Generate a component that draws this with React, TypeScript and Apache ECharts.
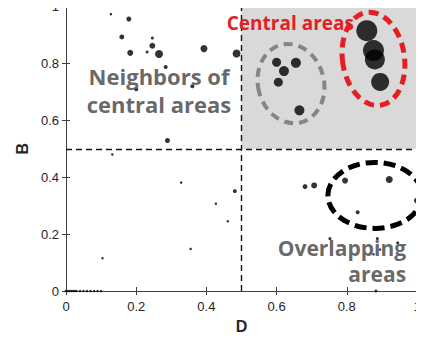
import React, { useEffect, useRef } from "react";
import * as echarts from "echarts";

const xTicks = ["0", "0.2", "0.4", "0.6", "0.8", "1"];
const yTicks = ["0", "0.2", "0.4", "0.6", "0.8", "1"];

const dX = [
  0.116, 0.128, 0.179, 0.159, 0.246, 0.246, 0.231, 0.183, 0.265, 0.284, 0.36, 0.2,
  0.393, 0.486, 0.6, 0.655, 0.621, 0.605, 0.665, 0.857, 0.876, 0.88, 0.895,
  0.681, 0.707, 0.795, 0.921, 1.0, 0.831, 0.79, 0.752, 0.887, 0.945, 0.895, 0.876, 0.883,
  0.289, 0.132, 0.328, 0.481, 0.427, 0.461, 0.355, 0.104,
  0.0, 0.005, 0.01, 0.015, 0.02, 0.025, 0.03, 0.04, 0.05, 0.06, 0.07, 0.08, 0.09, 0.1,
];
const dY = [
  1.0, 0.973, 0.956, 0.893, 0.889, 0.862, 0.84, 0.837, 0.833, 0.787, 0.72, 0.709,
  0.852, 0.835, 0.804, 0.802, 0.773, 0.734, 0.635, 0.915, 0.845, 0.814, 0.735,
  0.367, 0.371, 0.388, 0.392, 0.318, 0.277, 0.245, 0.184, 0.184, 0.169, 0.146, 0.129, 0.0,
  0.529, 0.48, 0.381, 0.351, 0.307, 0.245, 0.148, 0.115,
  0, 0, 0, 0, 0, 0, 0, 0, 0, 0, 0, 0, 0, 0,
];
const dW = [
  2.5, 2.5, 5, 5, 3, 6, 3, 6, 8, 4, 4, 4,
  7, 8, 9, 10, 10, 9, 10, 21, 21, 20, 18,
  5, 6, 6, 7, 6, 4, 3, 3, 3, 3, 2.5, 2.5, 3,
  5, 2.5, 2.5, 4, 2.5, 2.5, 2.5, 2.5,
  2.5, 2.5, 2.5, 2.5, 2.5, 2.5, 2.5, 2.5, 2.5, 2.5, 2.5, 2.5, 2.5, 2.5,
];

const threshold = 0.5;

export default function App() {
  const ref = useRef<HTMLDivElement>(null);
  useEffect(() => {
    if (!ref.current) return;
    const chart = echarts.init(ref.current, null, { renderer: "svg" });
    const axisFont = { fontFamily: "Liberation Sans", fontSize: 13, color: "#262626" };
    const lineCol = "#404040";
    const data = dX.map((x, i) => [x, dY[i], dW[i]]);
    chart.setOption({
      animation: false,
      grid: { left: 66, right: 7, top: 6, bottom: 50 },
      xAxis: [
        {
          type: "value", min: 0, max: 1, interval: 0.2,
          name: "D", nameLocation: "middle", nameGap: 27,
          nameTextStyle: { fontFamily: "Liberation Sans", fontWeight: "bold", fontSize: 16, color: "#262626" },
          axisLine: { lineStyle: { color: lineCol } },
          axisTick: { inside: true, length: 4, lineStyle: { color: lineCol } },
          axisLabel: { ...axisFont, margin: 9, showMaxLabel: true, showMinLabel: true, formatter: (v: number) => xTicks[Math.round(v / 0.2)] },
          splitLine: { show: false },
        },
        {
          type: "value", min: 0, max: 1, interval: 0.2, position: "top",
          axisLine: { lineStyle: { color: lineCol } },
          axisTick: { inside: true, length: 4, lineStyle: { color: lineCol } },
          axisLabel: { show: false }, splitLine: { show: false },
        },
      ],
      yAxis: [
        {
          type: "value", min: 0, max: 1, interval: 0.2,
          name: "B", nameLocation: "middle", nameGap: 35,
          nameTextStyle: { fontFamily: "Liberation Sans", fontWeight: "bold", fontSize: 16, color: "#262626" },
          axisLine: { show: true, lineStyle: { color: lineCol } },
          axisTick: { show: true, inside: true, length: 4, lineStyle: { color: lineCol } },
          axisLabel: { ...axisFont, margin: 7, showMaxLabel: true, showMinLabel: true, formatter: (v: number) => yTicks[Math.round(v / 0.2)] },
          splitLine: { show: false },
        },
        {
          type: "value", min: 0, max: 1, interval: 0.2, position: "right",
          axisLine: { show: true, lineStyle: { color: lineCol } },
          axisTick: { show: true, inside: true, length: 4, lineStyle: { color: lineCol } },
          axisLabel: { show: false }, splitLine: { show: false },
        },
      ],
      series: [
        {
          type: "scatter",
          data,
          symbolSize: (v: number[]) => v[2],
          itemStyle: { color: "#000" },
          clip: false,
          z: 3,
          markArea: {
            silent: true,
            itemStyle: { color: "#d9d9d9" },
            data: [[{ xAxis: threshold, yAxis: threshold }, { xAxis: 1, yAxis: 1 }]],
          },
          markLine: {
            silent: true,
            symbol: "none",
            label: { show: false },
            lineStyle: { color: "#111", type: [6, 4], width: 1.4 },
            data: [{ xAxis: threshold }, { yAxis: threshold }],
          },
        },
      ],
    });

    const px = (x: number, y: number) => chart.convertToPixel({ gridIndex: 0 }, [x, y]) as number[];
    const gC = px(0.641, 0.729);
    const rC = px(0.876, 0.816);
    const bC = px(0.88, 0.336);
    const tCentral = px(0.458, 0.941);
    const tNeigh = px(0.265, 0.706);
    const tOver = px(0.969, 0.105);
    const annFont = "'Open Sans', 'Noto Sans', sans-serif";
    chart.setOption({
      graphic: [
        {
          type: "ellipse", x: gC[0], y: gC[1], rotation: 0.25, z: 10,
          shape: { cx: 0, cy: 0, rx: 33, ry: 40 },
          style: { fill: "none", stroke: "#858585", lineWidth: 4, lineDash: [9, 6] },
        },
        {
          type: "ellipse", x: rC[0], y: rC[1], rotation: 0.15, z: 10,
          shape: { cx: 0, cy: 0, rx: 31, ry: 47 },
          style: { fill: "none", stroke: "#e31e24", lineWidth: 5, lineDash: [10, 6] },
        },
        {
          type: "ellipse", x: bC[0], y: bC[1], rotation: 0, z: 10,
          shape: { cx: 0, cy: 0, rx: 47, ry: 33 },
          style: { fill: "none", stroke: "#000", lineWidth: 5, lineDash: [12, 6] },
        },
        {
          type: "text", x: tCentral[0], y: tCentral[1], z: 11,
          style: {
            text: "Central areas", fill: "#e31e24", font: `bold 19px ${annFont}`,
            textAlign: "left", textVerticalAlign: "middle",
          },
        },
        {
          type: "text", x: tNeigh[0], y: tNeigh[1], z: 11,
          style: {
            text: "Neighbors of\ncentral areas", fill: "rgba(95,95,95,0.95)", font: `bold 22px ${annFont}`,
            textAlign: "center", textVerticalAlign: "middle", lineHeight: 28,
          },
        },
        {
          type: "text", x: tOver[0], y: tOver[1], z: 11,
          style: {
            text: "Overlapping\nareas", fill: "rgba(95,95,95,0.95)", font: `bold 21px ${annFont}`,
            textAlign: "right", textVerticalAlign: "middle", lineHeight: 26,
          },
        },
      ],
    });
    return () => chart.dispose();
  }, []);
  return <div ref={ref} style={{ width: 424, height: 341, margin: -8 }} />;
}
